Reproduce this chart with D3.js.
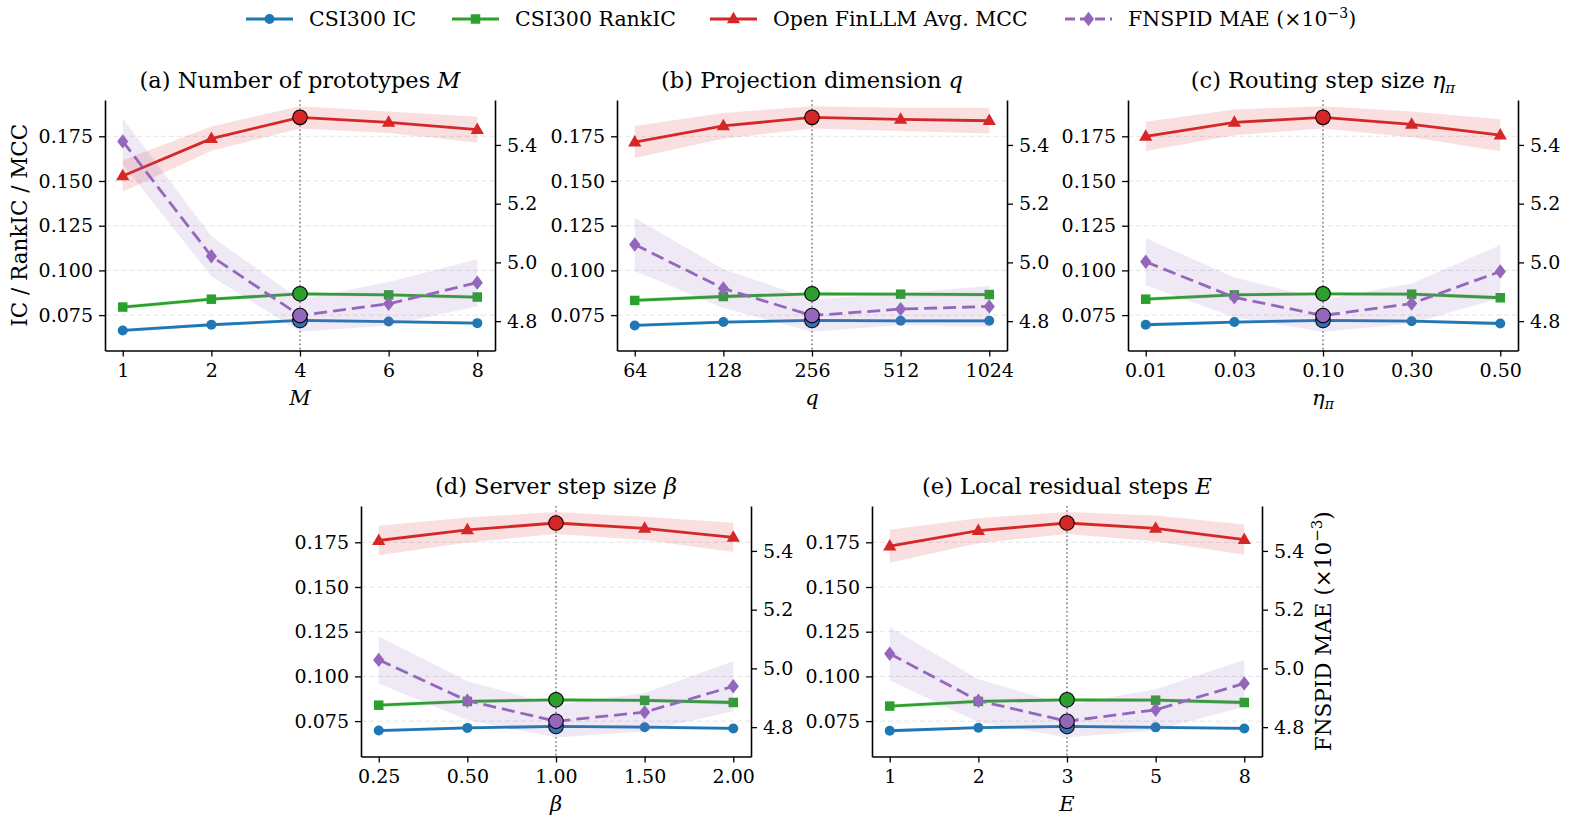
<!DOCTYPE html>
<html><head><meta charset="utf-8">
<script src="https://cdn.jsdelivr.net/npm/d3@7"></script>
<style>
body{margin:0;background:#fff;}
svg{font-family:"DejaVu Serif","Liberation Serif",serif;}
</style>
</head><body>
<svg id="chart" width="1569" height="822"></svg>
<script>
// ---------------- data ----------------
const seriesNames = ["CSI300 IC", "CSI300 RankIC", "Open FinLLM Avg. MCC", "FNSPID MAE"];
const seriesColors = ["#1f77b4", "#2ca02c", "#d62728", "#9467bd"];
const panelTitles = ["(a) Number of prototypes ", "(b) Projection dimension ", "(c) Routing step size ", "(d) Server step size ", "(e) Local residual steps "];
const panelSymbols = ["M", "q", "η", "β", "E"];
const panelSubscripts = ["", "", "π", "", ""];
const xTickLabels = [
  ["1", "2", "4", "6", "8"],
  ["64", "128", "256", "512", "1024"],
  ["0.01", "0.03", "0.10", "0.30", "0.50"],
  ["0.25", "0.50", "1.00", "1.50", "2.00"],
  ["1", "2", "3", "5", "8"]
];
const bestIndex = [2, 2, 2, 2, 2];

const icValues = [
  [0.0664, 0.0696, 0.0720, 0.0714, 0.0705],
  [0.0692, 0.0711, 0.0720, 0.0718, 0.0718],
  [0.0696, 0.0711, 0.0720, 0.0716, 0.0703],
  [0.0697, 0.0712, 0.0720, 0.0716, 0.0709],
  [0.0696, 0.0713, 0.0720, 0.0715, 0.0709]
];
const icErr = [
  [0.0010, 0.0009, 0.0008, 0.0009, 0.0010],
  [0.0010, 0.0009, 0.0008, 0.0009, 0.0010],
  [0.0010, 0.0009, 0.0008, 0.0009, 0.0010],
  [0.0010, 0.0009, 0.0008, 0.0009, 0.0010],
  [0.0010, 0.0009, 0.0008, 0.0009, 0.0010]
];
const rankIcValues = [
  [0.0795, 0.0839, 0.0869, 0.0863, 0.0851],
  [0.0832, 0.0854, 0.0869, 0.0867, 0.0865],
  [0.0839, 0.0863, 0.0869, 0.0867, 0.0847],
  [0.0839, 0.0860, 0.0869, 0.0866, 0.0854],
  [0.0834, 0.0860, 0.0869, 0.0867, 0.0854]
];
const rankIcErr = [
  [0.0012, 0.0011, 0.0010, 0.0011, 0.0012],
  [0.0012, 0.0011, 0.0010, 0.0011, 0.0012],
  [0.0012, 0.0011, 0.0010, 0.0011, 0.0012],
  [0.0012, 0.0011, 0.0010, 0.0011, 0.0012],
  [0.0012, 0.0011, 0.0010, 0.0011, 0.0012]
];
const mccValues = [
  [0.1528, 0.1737, 0.1856, 0.1828, 0.1787],
  [0.1718, 0.1808, 0.1856, 0.1845, 0.1837],
  [0.1750, 0.1828, 0.1856, 0.1817, 0.1756],
  [0.1760, 0.1819, 0.1858, 0.1828, 0.1778],
  [0.1728, 0.1815, 0.1858, 0.1828, 0.1765]
];
const mccErr = [
  [0.0088, 0.0068, 0.0062, 0.0060, 0.0072],
  [0.0090, 0.0072, 0.0062, 0.0065, 0.0072],
  [0.0082, 0.0072, 0.0062, 0.0072, 0.0090],
  [0.0082, 0.0070, 0.0062, 0.0065, 0.0082],
  [0.0092, 0.0070, 0.0062, 0.0072, 0.0085]
];
const maeValues = [
  [5.412, 5.021, 4.819, 4.859, 4.931],
  [5.061, 4.911, 4.819, 4.841, 4.850],
  [5.002, 4.881, 4.819, 4.860, 4.969],
  [5.029, 4.890, 4.820, 4.851, 4.939],
  [5.050, 4.890, 4.820, 4.859, 4.949]
];
const maeErr = [
  [0.078, 0.068, 0.055, 0.074, 0.080],
  [0.090, 0.066, 0.055, 0.054, 0.070],
  [0.080, 0.068, 0.055, 0.068, 0.090],
  [0.080, 0.066, 0.055, 0.065, 0.085],
  [0.090, 0.073, 0.055, 0.070, 0.080]
];
const leftTicks = [0.075, 0.100, 0.125, 0.150, 0.175];
const rightTicks = [4.8, 5.0, 5.2, 5.4];
const leftDomain = [0.0552, 0.1953];
const rightDomain = [4.700, 5.553];

// ---------------- layout ----------------
const W = 390, H = 250.5;
const boxes = [
  {x: 105, y: 100}, {x: 617, y: 100}, {x: 1128, y: 100},
  {x: 361, y: 506}, {x: 872, y: 506}
];
const svg = d3.select("#chart");
const TICK_FS = 19;

function markerPath(kind, size) {
  const s = size;
  if (kind === "circle") return d3.symbol(d3.symbolCircle, Math.PI * (s/2) * (s/2))();
  if (kind === "square") return d3.symbol(d3.symbolSquare, s * s)();
  if (kind === "triangle") {
    const h = s * 1.0, w = s * 1.15;
    return `M0,${-h*0.62}L${w/2},${h*0.38}L${-w/2},${h*0.38}Z`;
  }
  if (kind === "diamond") {
    const r = s * 0.6;
    return `M0,${-r}L${r*0.78},0L0,${r}L${-r*0.78},0Z`;
  }
}
const markers = ["circle", "square", "triangle", "diamond"];
const markerSizes = [10, 9.5, 11.5, 12];

function drawPanel(p) {
  const b = boxes[p];
  const g = svg.append("g").attr("transform", `translate(${b.x},${b.y})`);
  const x = d3.scaleLinear().domain([-0.2, 4.2]).range([0, W]);
  const yL = d3.scaleLinear().domain(leftDomain).range([H, 0]);
  const yR = d3.scaleLinear().domain(rightDomain).range([H, 0]);
  const idx = d3.range(xTickLabels[p].length);

  // grid
  g.selectAll("line.grid").data(leftTicks).join("line")
    .attr("x1", 0).attr("x2", W)
    .attr("y1", d => yL(d)).attr("y2", d => yL(d))
    .attr("stroke", "#b0b0b0").attr("stroke-opacity", 0.4)
    .attr("stroke-width", 0.9).attr("stroke-dasharray", "5,3");

  // best vertical dotted line
  g.append("line")
    .attr("x1", x(bestIndex[p])).attr("x2", x(bestIndex[p]))
    .attr("y1", 0).attr("y2", H)
    .attr("stroke", "#808080").attr("stroke-width", 1.6)
    .attr("stroke-dasharray", "1.6,2.6");

  const leftSeries = [
    {vals: icValues[p], err: icErr[p], s: 0},
    {vals: rankIcValues[p], err: rankIcErr[p], s: 1},
    {vals: mccValues[p], err: mccErr[p], s: 2}
  ];
  const rightSeries = [{vals: maeValues[p], err: maeErr[p], s: 3}];

  function drawSeries(ser, y, dashed) {
    const col = seriesColors[ser.s];
    const area = d3.area().x(i => x(i)).y0(i => y(ser.vals[i] - ser.err[i])).y1(i => y(ser.vals[i] + ser.err[i]));
    g.append("path").attr("d", area(idx)).attr("fill", col).attr("fill-opacity", 0.15).attr("stroke", "none");
    const line = d3.line().x(i => x(i)).y(i => y(ser.vals[i]));
    g.append("path").attr("d", line(idx)).attr("fill", "none").attr("stroke", col)
      .attr("stroke-width", 2.8).attr("stroke-dasharray", dashed ? "13,6" : null);
    g.selectAll(null).data(idx).join("path")
      .attr("d", markerPath(markers[ser.s], markerSizes[ser.s]))
      .attr("transform", i => `translate(${x(i)},${y(ser.vals[i])})`)
      .attr("fill", col);
  }
  function drawBest(ser, y) {
    const i = bestIndex[p];
    g.append("circle").attr("cx", x(i)).attr("cy", y(ser.vals[i])).attr("r", 7.3)
      .attr("fill", seriesColors[ser.s]).attr("stroke", "#000").attr("stroke-width", 1.1);
  }
  leftSeries.forEach(s => drawSeries(s, yL, false));
  leftSeries.forEach(s => drawBest(s, yL));
  rightSeries.forEach(s => drawSeries(s, yR, true));
  rightSeries.forEach(s => drawBest(s, yR));

  // axes
  const axL = d3.axisLeft(yL).tickValues(leftTicks).tickFormat(d3.format(".3f")).tickSize(6).tickSizeOuter(0).tickPadding(6);
  const axR = d3.axisRight(yR).tickValues(rightTicks).tickFormat(d3.format(".1f")).tickSize(6).tickSizeOuter(0).tickPadding(6);
  const axB = d3.axisBottom(x).tickValues(idx).tickFormat(i => xTickLabels[p][i]).tickSize(6).tickSizeOuter(0).tickPadding(7);
  const gl = g.append("g").call(axL);
  const gr = g.append("g").attr("transform", `translate(${W},0)`).call(axR);
  const gb = g.append("g").attr("transform", `translate(0,${H})`).call(axB);
  [gl, gr, gb].forEach(a => {
    a.select(".domain").attr("stroke", "#000").attr("stroke-width", 1.6);
    a.selectAll(".tick line").attr("stroke", "#000").attr("stroke-width", 1.3);
    a.selectAll(".tick text").attr("fill", "#000").style("font-size", TICK_FS + "px")
      .style("font-family", '"DejaVu Serif", serif');
  });

  // title
  const t = g.append("text").attr("x", W / 2).attr("y", -12).attr("text-anchor", "middle")
    .style("font-size", "22.5px").attr("fill", "#000");
  t.append("tspan").text(panelTitles[p]);
  t.append("tspan").style("font-style", "italic").text(panelSymbols[p]);
  if (panelSubscripts[p]) t.append("tspan").style("font-style", "italic").style("font-size", "15px").attr("dy", 5).text(panelSubscripts[p]);

  // xlabel
  const xl = g.append("text").attr("x", W / 2).attr("y", H + 54).attr("text-anchor", "middle")
    .style("font-size", "21px").attr("fill", "#000");
  xl.append("tspan").style("font-style", "italic").text(panelSymbols[p]);
  if (panelSubscripts[p]) xl.append("tspan").style("font-style", "italic").style("font-size", "14px").attr("dy", 4).text(panelSubscripts[p]);
}

d3.range(5).forEach(drawPanel);

// left y label (panel a)
svg.append("text")
  .attr("transform", `translate(27,${boxes[0].y + H / 2}) rotate(-90)`)
  .attr("text-anchor", "middle").style("font-size", "21.5px").attr("fill", "#000")
  .text("IC / RankIC / MCC");

// right y label (panel e)
const rl = svg.append("text")
  .attr("transform", `translate(${boxes[4].x + W + 69},${boxes[4].y + H / 2}) rotate(-90)`)
  .attr("text-anchor", "middle").style("font-size", "21.5px").attr("fill", "#000");
rl.append("tspan").text(seriesNames[3] + " (×10");
rl.append("tspan").attr("dy", -9).style("font-size", "15px").text("−3");
rl.append("tspan").attr("dy", 9).text(")");

// legend
const legendX = [246, 452, 710, 1065];
const lg = svg.append("g");
seriesNames.forEach((name, k) => {
  const gx = legendX[k], gy = 19;
  lg.append("line").attr("x1", gx).attr("x2", gx + 47).attr("y1", gy).attr("y2", gy)
    .attr("stroke", seriesColors[k]).attr("stroke-width", 2.8)
    .attr("stroke-dasharray", k === 3 ? "10,5" : null);
  lg.append("path").attr("d", markerPath(markers[k], markerSizes[k]))
    .attr("transform", `translate(${gx + 23.5},${gy})`).attr("fill", seriesColors[k]);
  const tx = lg.append("text").attr("x", gx + 63).attr("y", gy + 7).style("font-size", "20.5px").attr("fill", "#000");
  tx.append("tspan").text(name);
  if (k === 3) {
    tx.append("tspan").text(" (×10");
    tx.append("tspan").attr("dy", -8).style("font-size", "14px").text("−3");
    tx.append("tspan").attr("dy", 8).text(")");
  }
});
</script>
</body></html>
